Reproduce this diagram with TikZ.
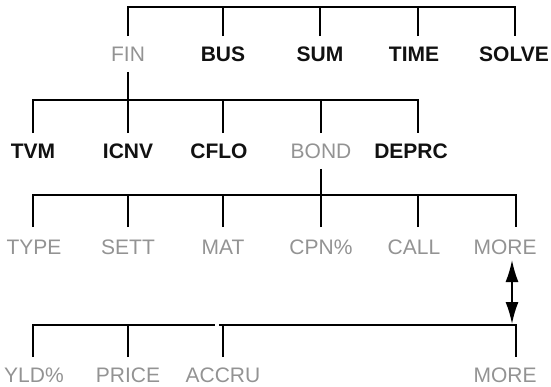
\documentclass[tikz,border=0pt]{standalone}
\usepackage{fontspec}
\setmainfont{Liberation Sans}
\usetikzlibrary{arrows.meta}
\definecolor{keyink}{HTML}{111111}
\definecolor{softink}{HTML}{939393}

\begin{document}
\begin{tikzpicture}[x=1pt, y=-1pt,
    lbl/.style={inner xsep=0pt, inner ysep=10pt, text height=15.3pt, text depth=0pt,
      font=\fontsize{21}{25}\selectfont},
    key/.style={lbl, text=keyink, font=\fontsize{21}{25}\selectfont\bfseries},
    soft/.style={lbl, text=softink},
    low/.style={inner ysep=12pt},
    link/.style={line width=1.7pt}]
    \useasboundingbox (0,0) rectangle (551,386);
    % bar heights
    \coordinate (r1) at (0,7);
    \coordinate (r2) at (0,100);
    \coordinate (r3) at (0,195);
    \coordinate (r4) at (0,325);
    % top row
    \foreach \x/\name/\txt/\sty in {
      128/fin/FIN/soft,
      223/bus/BUS/key,
      320/sum/SUM/key,
      414/time/TIME/key,
      514/solve/SOLVE/key}{
      \node[\sty] (\name) at (\x,54) {\txt};
    }
    \coordinate (e1) at (515,7);
    \draw[link] (fin.north) |- (e1) -- (e1 |- solve.north);
    \draw[link] (time.north -| 418,0) -- (418,7);
    \foreach \name in {bus,sum}
      \draw[link] (\name.north) -- (\name.north |- r1);
    % FIN menu
    \foreach \x/\name/\txt/\sty in {
      33/tvm/TVM/key,
      128/icnv/ICNV/key,
      219/cflo/CFLO/key,
      321/bond/BOND/soft,
      411/deprc/DEPRC/key}{
      \node[\sty] (\name) at (\x,151) {\txt};
    }
    \coordinate (d2) at (418,100);
    \draw[link] (fin.south) -- (fin.south |- r2);
    \draw[link] (tvm.north) |- (d2) -- (d2 |- deprc.north);
    \foreach \name in {icnv,bond}
      \draw[link] (\name.north) -- (\name.north |- r2);
    \draw[link] (cflo.north -| 223,0) -- (223,100);
    % BOND menu, page 1
    \foreach \x/\name/\txt in {
      34/type/TYPE,
      128/sett/SETT,
      223/mat/MAT,
      321/cpn/CPN\%,
      414/call/CALL,
      505/moreA/MORE}{
      \node[soft, low] (\name) at (\x,247) {\txt};
    }
    \coordinate (e3) at (516,195);
    \draw[link] (bond.south) -- (bond.south |- r3);
    \draw[link] (type.north -| 33,0) |- (e3) -- (e3 |- moreA.north);
    \foreach \name in {sett,mat,cpn}
      \draw[link] (\name.north) -- (\name.north |- r3);
    \draw[link] (call.north -| 418,0) -- (418,195);
    % BOND menu, page 2
    \foreach \x/\name/\txt in {
      34/yld/YLD\%,
      128/price/PRICE,
      223/accru/ACCRU,
      505/moreB/MORE}{
      \node[soft] (\name) at (\x,375) {\txt};
    }
    \coordinate (g1) at (215,325);
    \coordinate (g2) at (219,325);
    \coordinate (e4) at (516,325);
    \draw[link] (yld.north -| 33,0) |- (g1);
    \draw[link] (price.north) -- (price.north |- r4);
    \draw[link] (g2) -- (e4) -- (e4 |- moreB.north);
    \draw[link] (accru.north) -- (accru.north |- r4);
    % paging arrow
    \coordinate (pgA) at (512,260);
    \coordinate (pgB) at (512,324);
    \draw[link, {Latex[length=22pt,width=13pt]}-{Latex[length=22pt,width=13pt]}] (pgA) -- (pgB);
\end{tikzpicture}
\end{document}
